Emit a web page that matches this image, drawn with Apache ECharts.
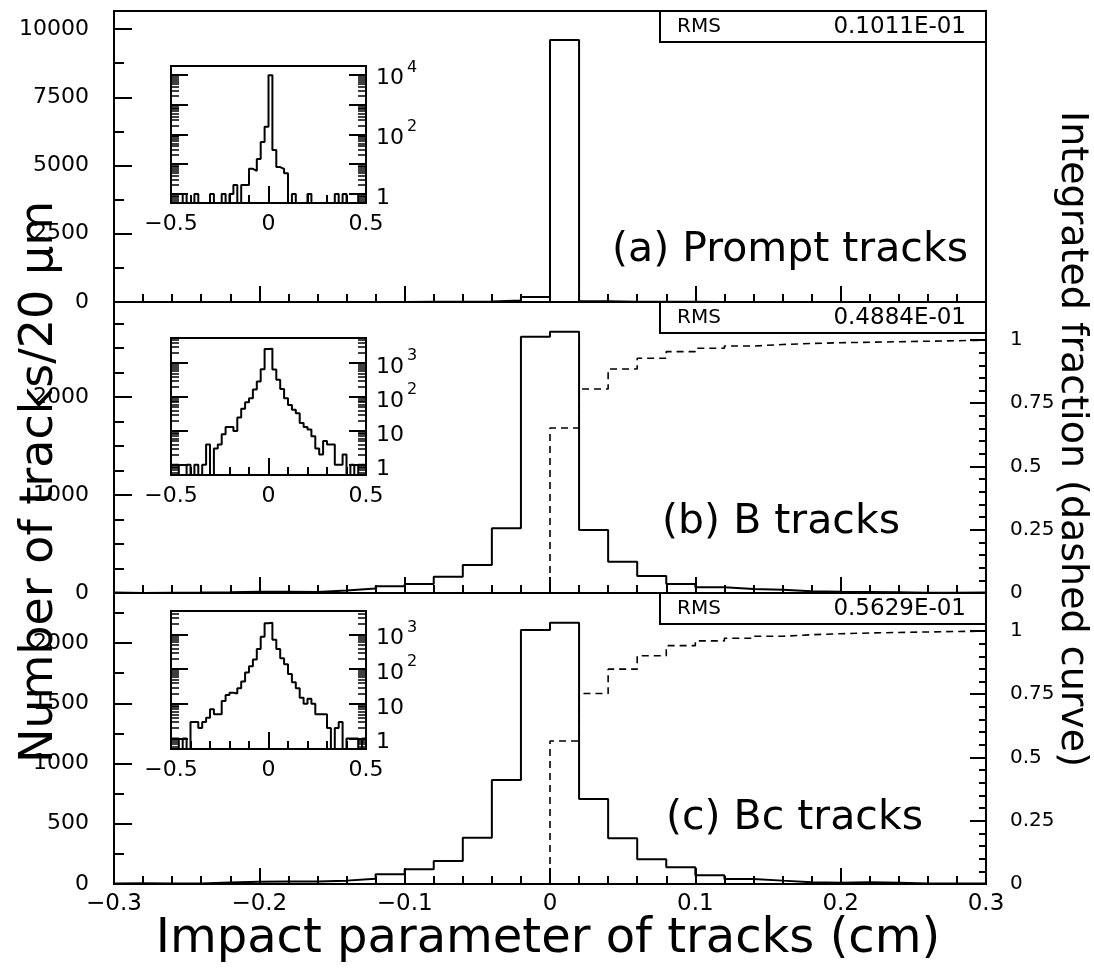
<!DOCTYPE html>
<html>
<head>
<meta charset="utf-8">
<title>Impact parameter of tracks</title>
<script src="https://cdn.jsdelivr.net/npm/echarts@6/dist/echarts.min.js"></script>
<style>
  html, body { margin: 0; padding: 0; background: #fff; }
  #chart { width: 1094px; height: 973px; }
</style>
</head>
<body>
<div id="chart"></div>
<script>
// histogram bins: 20 um (0.02 cm) wide, from -0.5 to 0.5 cm
const binLow = -0.5;
const binWidth = 0.02;

// counts per bin (tails, core from the main panels)
const promptCounts = [
  0, 0, 0, 1, 0, 0, 1, 0, 0, 0,
  1, 0, 0, 1, 0, 1, 2, 0, 2, 2,
  7, 6, 15, 55, 180, 9600, 30, 8, 7, 5,
  0, 1, 0, 0, 0, 1, 0, 0, 0, 0,
  0, 0, 1, 0, 1, 0, 0, 0, 1, 1
];
const bCounts = [
  1, 1, 0, 0, 1, 0, 1, 0, 1, 4,
  0, 3, 4, 8, 13, 13, 10, 25, 45, 70,
  92, 166, 286, 660, 2615, 2666, 643, 320, 173, 92,
  58, 42, 33, 17, 13, 11, 7, 3, 2, 5,
  4, 4, 1, 1, 2, 0, 1, 0, 1, 1
];
const bcCounts = [
  1, 1, 0, 1, 0, 3, 3, 2, 3, 4,
  7, 5, 5, 12, 18, 21, 20, 28, 44, 80,
  122, 191, 384, 863, 2108, 2168, 705, 379, 205, 138,
  72, 42, 28, 15, 10, 14, 10, 5, 5, 5,
  2, 0, 2, 3, 0, 1, 1, 1, 0, 1
];

// integrated fraction (dashed curve), bins from 0 to 0.3 cm
const bCumulative = [0.652, 0.806, 0.885, 0.928, 0.954, 0.967, 0.976, 0.982, 0.986, 0.989, 0.991, 0.993, 0.995, 0.997, 0.999];
const bcCumulative = [0.565, 0.753, 0.849, 0.902, 0.942, 0.961, 0.971, 0.979, 0.985, 0.989, 0.992, 0.994, 0.996, 0.998, 0.999];

const panelLabels = ['(a) Prompt tracks', '(b) B tracks', '(c) Bc tracks'];
const rmsValues = ['0.1011E-01', '0.4884E-01', '0.5629E-01'];

// axis ranges of the three panels
const countMax = [10660, 2970, 2415];
const countInterval = [2500, 1000, 500];
const countMinorSplit = [2, 4, 2];
const insetMax = [19500, 5500, 4750];
const insetLabelValues = [[1, 100, 10000], [1, 10, 100, 1000], [1, 10, 100, 1000]];
const fractionMax = 1.15;

const FONT = 'DejaVu Sans';
const allCounts = [promptCounts, bCounts, bcCounts];

// step outline of a histogram, closed at the floor on both ends
function histPoints(counts, floor) {
  const pts = [[binLow, floor]];
  counts.forEach((c, i) => {
    pts.push([binLow + i * binWidth, c > 0 ? c : floor]);
  });
  const last = counts[counts.length - 1];
  pts.push([binLow + counts.length * binWidth, last > 0 ? last : floor]);
  pts.push([binLow + counts.length * binWidth, floor]);
  return pts;
}

function cumPoints(cum) {
  const pts = [[-0.3, 0]];
  cum.forEach((v, i) => pts.push([i * binWidth, v]));
  pts.push([cum.length * binWidth, cum[cum.length - 1]]);
  return pts;
}

function minus(v) {
  return String(v).replace('-', '\u2212');
}

// 10^n labels with a raised exponent
function powLabel(v) {
  const e = Math.round(Math.log10(v));
  if (e === 0) return '{b|1}';
  if (e === 1) return '{b|10}';
  return '{b|10}{s|' + e + '}';
}

function logMinorValues(max) {
  const vals = [0.6, 0.7, 0.8, 0.9];
  for (let d = 1; d <= max; d *= 10) {
    for (let k = 2; k <= 9; k++) {
      if (k * d < max) vals.push(k * d);
    }
  }
  return vals;
}
function logMajorValues(max) {
  const vals = [];
  for (let d = 1; d < max; d *= 10) vals.push(d);
  return vals;
}

const mainTop = [11, 302, 593];
const insetTop = [66, 338, 611];
const insetHeight = [137, 137, 138];

const grids = [];
const xAxes = [];
const yAxes = [];
const series = [];

const tickStyle = { color: '#000', width: 2 };
const labelBase = { color: '#000', fontFamily: FONT, fontSize: 22 };
const noLine = { show: false, onZero: false };

// main panels
for (let i = 0; i < 3; i++) {
  grids.push({
    left: 114, top: mainTop[i], width: 872, height: 291,
    show: true, borderColor: '#000', borderWidth: 2, backgroundColor: 'transparent'
  });
  xAxes.push({
    gridIndex: i, type: 'value', min: -0.3, max: 0.3, interval: 0.1,
    axisLine: noLine,
    axisTick: { inside: true, length: 16, lineStyle: tickStyle },
    minorTick: { show: true, splitNumber: 5, length: 8, lineStyle: tickStyle },
    splitLine: { show: false },
    axisLabel: Object.assign({}, labelBase, { show: i === 2, margin: 9, fontSize: 23, formatter: minus })
  });
  yAxes.push({
    gridIndex: i, type: 'value', position: 'left', min: 0, max: countMax[i], interval: countInterval[i],
    axisLine: noLine,
    axisTick: { inside: true, length: 18, lineStyle: tickStyle },
    minorTick: { show: true, splitNumber: countMinorSplit[i], length: 10, lineStyle: tickStyle },
    splitLine: { show: false },
    axisLabel: Object.assign({}, labelBase, { margin: 25, showMaxLabel: false, formatter: v => String(v) })
  });
}

// right fraction axes for panels b and c
for (let i = 1; i < 3; i++) {
  yAxes.push({
    gridIndex: i, type: 'value', position: 'right', min: 0, max: fractionMax, interval: 0.25,
    axisLine: noLine,
    axisTick: { inside: true, length: 16, lineStyle: tickStyle },
    minorTick: { show: true, splitNumber: 5, length: 7, lineStyle: tickStyle },
    splitLine: { show: false },
    axisLabel: Object.assign({}, labelBase, { margin: 24, fontSize: 20, showMaxLabel: false, formatter: v => String(v) })
  });
}

// insets
for (let i = 0; i < 3; i++) {
  const g = 3 + i;
  grids.push({
    left: 171, top: insetTop[i], width: 195, height: insetHeight[i],
    show: true, borderColor: '#000', borderWidth: 2, backgroundColor: '#fff'
  });
  xAxes.push({
    gridIndex: g, type: 'value', min: -0.5, max: 0.5, interval: 0.5,
    axisLine: noLine,
    axisTick: { inside: true, length: 17, lineStyle: tickStyle },
    minorTick: { show: true, splitNumber: 5, length: 8, lineStyle: tickStyle },
    splitLine: { show: false },
    axisLabel: Object.assign({}, labelBase, { margin: 10, fontSize: 22, formatter: minus })
  });
  const majors = logMajorValues(insetMax[i]);
  const minors = logMinorValues(insetMax[i]);
  ['left', 'right'].forEach(side => {
    yAxes.push({
      gridIndex: g, type: 'log', logBase: 10, position: side, offset: 0,
      min: 0.5, max: insetMax[i],
      axisLine: noLine,
      axisTick: { inside: true, length: 17, lineStyle: tickStyle, customValues: majors },
      splitLine: { show: false },
      axisLabel: {
        show: side === 'right', margin: 10,
        customValues: insetLabelValues[i], formatter: powLabel,
        rich: {
          b: { color: '#000', fontFamily: FONT, fontSize: 22, lineHeight: 30, verticalAlign: 'bottom' },
          s: { color: '#000', fontFamily: FONT, fontSize: 16, lineHeight: 30, verticalAlign: 'top', padding: [0, 0, 0, 3] }
        }
      }
    });
    yAxes.push({
      gridIndex: g, type: 'log', logBase: 10, position: side, offset: 0,
      min: 0.5, max: insetMax[i],
      axisLine: noLine,
      axisTick: { inside: true, length: 8, lineStyle: { color: '#000', width: 1.5 }, customValues: minors },
      splitLine: { show: false },
      axisLabel: { show: false }
    });
  });
}

const lineBase = {
  type: 'line', step: 'end', symbol: 'none', silent: true, animation: false,
  lineStyle: { color: '#000', width: 2 }
};

for (let i = 0; i < 3; i++) {
  series.push(Object.assign({}, lineBase, {
    xAxisIndex: i, yAxisIndex: i, data: histPoints(allCounts[i], 0)
  }));
  series.push(Object.assign({}, lineBase, {
    xAxisIndex: 3 + i, yAxisIndex: 5 + i * 4, data: histPoints(allCounts[i], 0.5)
  }));
}
series.push(Object.assign({}, lineBase, {
  xAxisIndex: 1, yAxisIndex: 3, data: cumPoints(bCumulative),
  lineStyle: { color: '#000', width: 1.6, type: [7, 5] }
}));
series.push(Object.assign({}, lineBase, {
  xAxisIndex: 2, yAxisIndex: 4, data: cumPoints(bcCumulative),
  lineStyle: { color: '#000', width: 1.6, type: [7, 5] }
}));

// RMS boxes, panel captions and axis titles
const graphics = [];
const rmsTop = [11, 302, 593];
for (let i = 0; i < 3; i++) {
  graphics.push({
    type: 'rect', z: 100,
    shape: { x: 660, y: rmsTop[i], width: 326, height: 31 },
    style: { fill: '#fff', stroke: '#000', lineWidth: 2 }
  });
  graphics.push({
    type: 'text', z: 101, x: 677, y: rmsTop[i] + 16,
    style: { text: 'RMS', font: '20px "' + FONT + '"', fill: '#000', textVerticalAlign: 'middle' }
  });
  graphics.push({
    type: 'text', z: 101, x: 966, y: rmsTop[i] + 16,
    style: { text: rmsValues[i], font: '23px "' + FONT + '"', fill: '#000', textAlign: 'right', textVerticalAlign: 'middle' }
  });
}
const captionPos = [[968, 250], [900, 522], [923, 818]];
panelLabels.forEach((t, i) => {
  graphics.push({
    type: 'text', z: 101, x: captionPos[i][0], y: captionPos[i][1],
    style: { text: t, font: '41px "' + FONT + '"', fill: '#000', textAlign: 'right', textVerticalAlign: 'middle' }
  });
});
graphics.push({
  type: 'text', z: 101, x: 548, y: 940,
  style: { text: 'Impact parameter of tracks (cm)', font: '48px "' + FONT + '"', fill: '#000', textAlign: 'center', textVerticalAlign: 'middle' }
});
graphics.push({
  type: 'text', z: 101, x: 40, y: 482, rotation: Math.PI / 2,
  style: { text: 'Number of tracks/20 \u03bcm', font: '46px "' + FONT + '"', fill: '#000', textAlign: 'center', textVerticalAlign: 'middle' }
});
graphics.push({
  type: 'text', z: 101, x: 1072, y: 439, rotation: -Math.PI / 2,
  style: { text: 'Integrated fraction (dashed curve)', font: '38px "' + FONT + '"', fill: '#000', textAlign: 'center', textVerticalAlign: 'middle' }
});

const chart = echarts.init(document.getElementById('chart'), null, { renderer: 'canvas' });
chart.setOption({
  animation: false,
  backgroundColor: '#fff',
  grid: grids,
  xAxis: xAxes,
  yAxis: yAxes,
  series: series,
  graphic: graphics
});
</script>
</body>
</html>
